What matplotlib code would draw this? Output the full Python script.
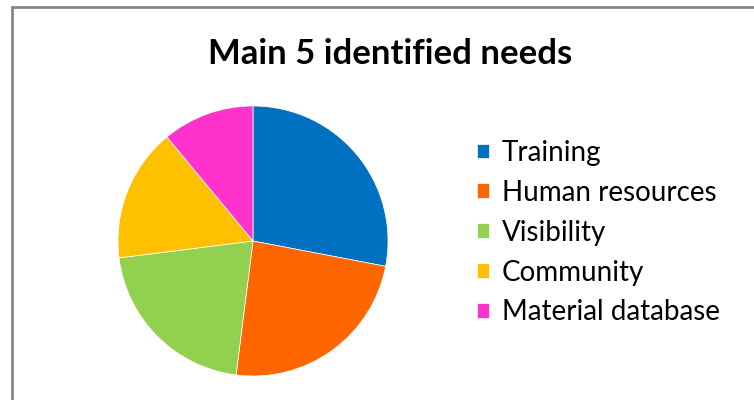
import matplotlib.pyplot as plt
from matplotlib.patches import Rectangle

needs = ['Training', 'Human resources', 'Visibility', 'Community', 'Material database']
shares = [28, 24, 21, 16, 11]
colors = ['#0070C0', '#FF6600', '#92D050', '#FFC000', '#FF33CC']

plt.rcParams['font.family'] = ['Lato', 'DejaVu Sans']

fig = plt.figure(figsize=(7.54, 4.0), dpi=100)

# chart area border (right/bottom edges fall off the canvas)
fig.patches.append(Rectangle((12 / 754, -0.2), 800 / 754, 1.2 - 7 / 400, transform=fig.transFigure,
                             fill=False, edgecolor='#868686', linewidth=2))

ax = fig.add_axes([(253 - 135) / 754, (400 - 241 - 135) / 400, 270 / 754, 270 / 400])
wedges, _ = ax.pie(shares, colors=colors, startangle=90, counterclock=False,
                   wedgeprops=dict(linewidth=0.5, edgecolor='white'))
ax.set_xlim(-1, 1)
ax.set_ylim(-1, 1)
ax.set_aspect('equal')

fig.text(390 / 754, 1 - 54 / 400, 'Main 5 identified needs', ha='center', va='center',
         fontsize=25, fontweight='bold')

fig.legend(wedges, needs, loc='upper left', bbox_to_anchor=(463 / 754, 1 - 126 / 400),
           frameon=False, fontsize=20, handlelength=0.45, handleheight=0.45,
           handletextpad=0.45, labelspacing=0.5, borderpad=0)

fig.savefig('out.png', dpi=100)
